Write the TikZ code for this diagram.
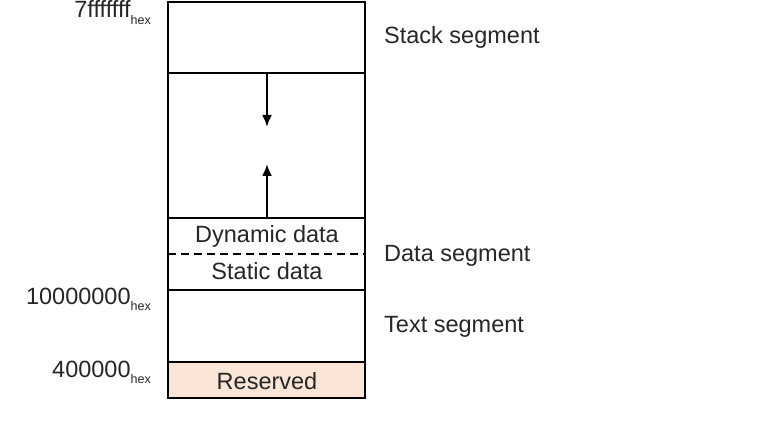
\documentclass[tikz,border=0pt]{standalone}
\usepackage{fontspec}
\setmainfont{Liberation Sans}
\usetikzlibrary{arrows.meta}
\definecolor{peach}{HTML}{FBE5D6}
\definecolor{txt}{HTML}{262626}
\begin{document}
\begin{tikzpicture}[x=1pt,y=-1pt,
  seg/.style={draw=black,line width=2.8pt},
  lbl/.style={text=txt,font=\fontsize{23.5}{27}\selectfont,inner sep=0pt},
  addr/.style={text=txt,font=\fontsize{23.5}{27}\selectfont,inner sep=0pt,anchor=base east},
  arr/.style={line width=2.2pt,-{Latex[length=12pt,width=10pt]}}]
\useasboundingbox (0,0) rectangle (783,438);
% reserved fill
\fill[peach] (168,362) rectangle (365,398);
% outer box
\draw[seg] (168,2) rectangle (365,398);
\draw[seg] (168,73) -- (365,73);
\draw[seg] (168,218) -- (365,218);
\draw[seg] (168,290) -- (365,290);
\draw[seg] (168,362) -- (365,362);
\draw[line width=1.4pt,dash pattern=on 8pt off 5pt] (168,254) -- (365,254);
% arrows
\coordinate (dtop) at (267,73);
\coordinate (dend) at (267,127);
\coordinate (utop) at (267,218);
\coordinate (uend) at (267,164);
\draw[arr] (dtop) -- (dend);
\draw[arr] (utop) -- (uend);
% inner labels
\node[lbl] (dyn) at (267,236) {Dynamic data};
\node[lbl] (sta) at (267,271) {Static data};
\node[lbl] (res) at (267,381) {Reserved};
% right labels
\node[lbl,anchor=west] (stack) at (384,37) {Stack segment};
\node[lbl,anchor=west] (data) at (384,256) {Data segment};
\node[lbl,anchor=west] (text) at (384,327) {Text segment};
% address labels
\node[addr] (a1) at (151,18) {7fffffff\raisebox{-0.28em}{\fontsize{12.5}{13}\selectfont hex}};
\node[addr] (a2) at (151,304) {10000000\raisebox{-0.28em}{\fontsize{12.5}{13}\selectfont hex}};
\node[addr] (a3) at (151,377) {400000\raisebox{-0.28em}{\fontsize{12.5}{13}\selectfont hex}};
\end{tikzpicture}
\end{document}
